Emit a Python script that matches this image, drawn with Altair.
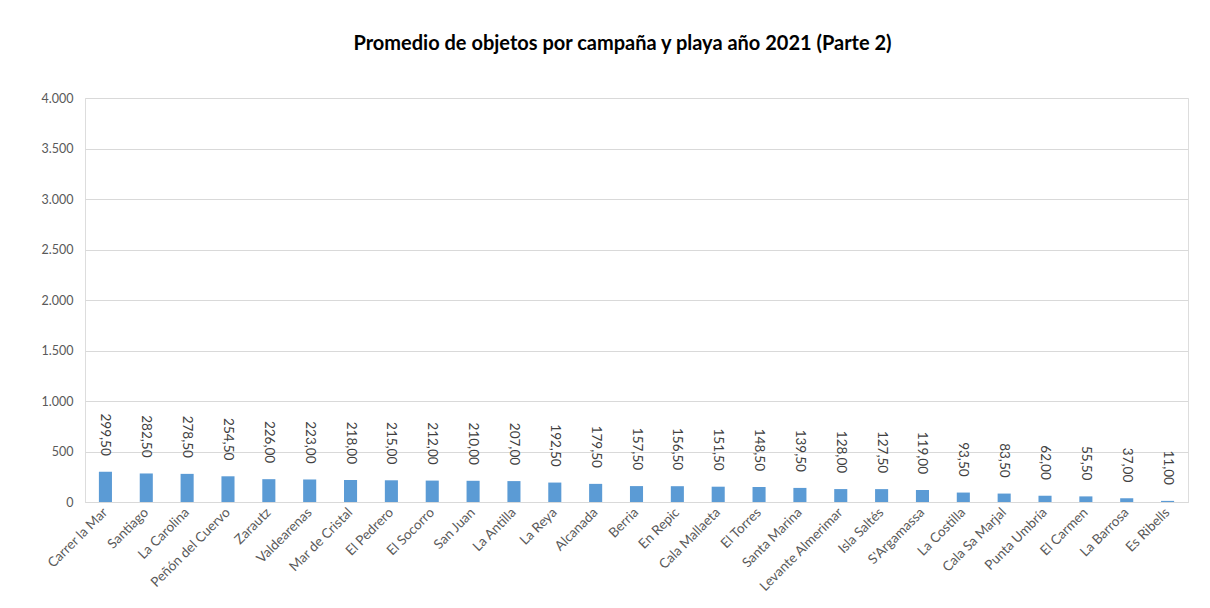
import altair as alt
import pandas as pd

playas = ["Carrer la Mar", "Santiago", "La Carolina", "Peñón del Cuervo", "Zarautz",
          "Valdearenas", "Mar de Cristal", "El Pedrero", "El Socorro", "San Juan",
          "La Antilla", "La Reya", "Alcanada", "Berria", "En Repic", "Cala Mallaeta",
          "El Torres", "Santa Marina", "Levante Almerimar", "Isla Saltés", "S'Argamassa",
          "La Costilla", "Cala Sa Marjal", "Punta Umbría", "El Carmen", "La Barrosa",
          "Es Ribells"]
promedio = [299.5, 282.5, 278.5, 254.5, 226.0, 223.0, 218.0, 215.0, 212.0, 210.0,
            207.0, 192.5, 179.5, 157.5, 156.5, 151.5, 148.5, 139.5, 128.0, 127.5,
            119.0, 93.5, 83.5, 62.0, 55.5, 37.0, 11.0]
y_ticks = [0, 500, 1000, 1500, 2000, 2500, 3000, 3500, 4000]

df = pd.DataFrame({"playa": playas, "promedio": promedio})
df["etiqueta"] = [f"{v:.2f}".replace(".", ",") for v in promedio]

FONT = "Lato"
x_enc = alt.X("playa:N", sort=None, title=None,
              scale=alt.Scale(paddingInner=0.68, paddingOuter=0.34),
              axis=alt.Axis(labelAngle=-45, labelAlign="right", labelBaseline="middle",
                            labelFontSize=13.5, labelColor="#595959", labelFont=FONT,
                            labelPadding=8, ticks=False, domainColor="#d9d9d9",
                            labelLimit=200))
y_enc = alt.Y("promedio:Q", title=None,
              scale=alt.Scale(domain=[0, 4000], nice=False),
              axis=alt.Axis(values=y_ticks, grid=True, gridColor="#d9d9d9",
                            domain=False, ticks=False, labelFontSize=12.5,
                            labelColor="#595959", labelFont=FONT, labelPadding=12,
                            labelExpr="replace(format(datum.value, ',d'), ',', '.')"))

bars = alt.Chart(df).mark_bar(color="#5b9bd5").encode(x=x_enc, y=y_enc)

labels = alt.Chart(df).mark_text(angle=90, align="right", baseline="middle", dx=-16,
                                 fontSize=13.5, color="#404040", font=FONT).encode(
    x=x_enc, y=y_enc, text="etiqueta:N")

chart = alt.layer(bars, labels).properties(
    width=1103, height=404,
    title=alt.TitleParams("Promedio de objetos por campaña y playa año 2021 (Parte 2)",
                          fontSize=20, font=FONT, fontWeight="bold", color="#000000",
                          anchor="middle", offset=38, dx=-14),
    autosize=alt.AutoSizeParams(type="none"),
    padding={"left": 77, "top": 90, "right": 14, "bottom": 98},
).configure_view(stroke=None).configure(background="white")

chart.save("out.html", embed_options={"renderer": "svg", "actions": False})
